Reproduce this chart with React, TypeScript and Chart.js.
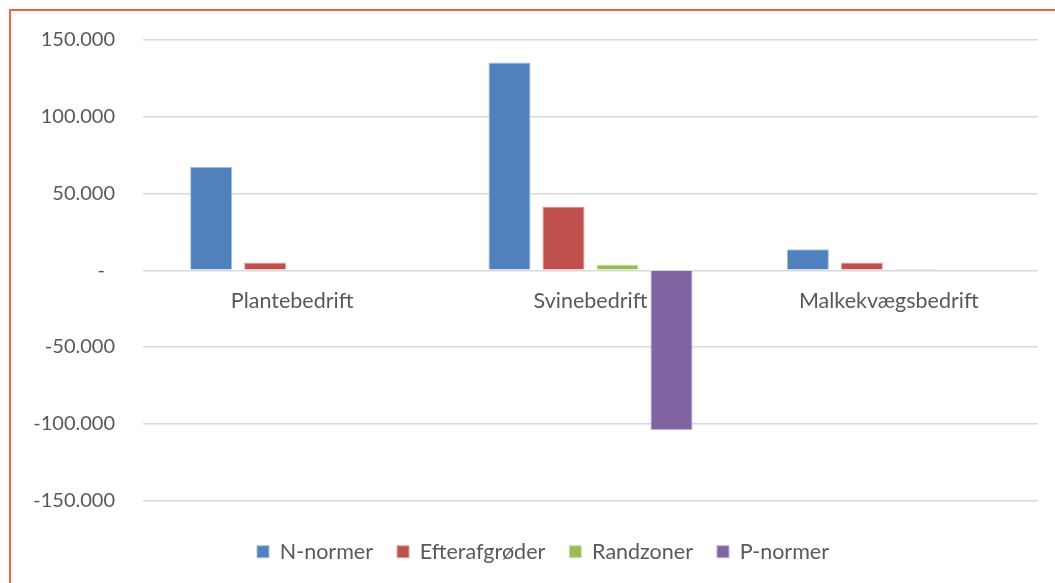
import React, { useEffect, useRef } from 'react';
import { Chart, registerables } from 'chart.js';

Chart.register(...registerables);

const categories = ['Plantebedrift', 'Svinebedrift', 'Malkekvægsbedrift'];
const seriesNames = ['N-normer', 'Efterafgrøder', 'Randzoner', 'P-normer'];
const nNormer = [67500, 135300, 13600];
const efterafgroeder = [5000, 41500, 5000];
const randzoner = [0, 3700, 800];
const pNormer = [0, -104000, 0];
const yMin = -150000;
const yMax = 150000;
const yStep = 50000;

const fillColors = ['#4f81bd', '#c0504d', '#9bbb59', '#8064a2'];
const edgeColors = ['#a7c0de', '#e0a8a6', '#cddcac', '#bfb1d0'];

const FONT = 'Lato, Carlito, Calibri, sans-serif';
const TEXT = '#595959';
const LEGEND_SHIFT = 24;

function fmt(v: number): string {
  if (v === 0) return '-\u2002';
  const s = Math.abs(v).toString().replace(/\B(?=(\d{3})+(?!\d))/g, '.');
  return (v < 0 ? '-' : '') + s;
}

const legendShift = {
  id: 'legendShift',
  afterLayout(chart: any) {
    const lg = chart.legend;
    if (lg) {
      lg.left += LEGEND_SHIFT;
      lg.right += LEGEND_SHIFT;
    }
  },
};

export default function App() {
  const ref = useRef<HTMLCanvasElement | null>(null);

  useEffect(() => {
    document.documentElement.style.overflow = 'hidden';
    document.body.style.overflow = 'hidden';
    const canvas = ref.current;
    if (!canvas) return;
    const seriesValues = [nNormer, efterafgroeder, randzoner, pNormer];
    const chart = new Chart(canvas, {
      type: 'bar',
      data: {
        labels: categories,
        datasets: seriesNames.map((name, i) => ({
          label: name,
          data: seriesValues[i],
          backgroundColor: fillColors[i],
          borderColor: edgeColors[i],
          borderWidth: 1,
          categoryPercentage: 0.724,
          barPercentage: 0.78,
        })),
      },
      plugins: [legendShift],
      options: {
        responsive: false,
        animation: false,
        events: [],
        layout: { padding: { left: 0, right: 17, top: 39, bottom: 10.5 } },
        scales: {
          x: {
            position: { y: 0 } as any,
            grid: { display: false, drawTicks: true, tickLength: 18 },
            border: { display: false },
            ticks: { color: TEXT, font: { family: FONT, size: 21.5 }, padding: 0 },
          },
          y: {
            min: yMin,
            max: yMax,
            grid: { color: '#d9d9d9', lineWidth: 1.5, drawTicks: false },
            border: { display: false },
            ticks: {
              stepSize: yStep,
              color: TEXT,
              font: { family: FONT, size: 20 },
              padding: 28,
              callback: (v: any) => fmt(Number(v)),
            },
            afterFit: (scale: any) => {
              scale.width = 143;
            },
          },
        },
        plugins: {
          tooltip: { enabled: false },
          title: { display: false },
          legend: {
            display: true,
            position: 'bottom',
            title: { display: true, text: '', font: { size: 10, lineHeight: 1.65 }, padding: 0 },
            labels: {
              boxWidth: 12,
              boxHeight: 12,
              padding: 24,
              color: TEXT,
              font: { family: FONT, size: 21.5 },
            },
          },
        },
      },
    });
    return () => chart.destroy();
  }, []);

  return (
    <>
      <canvas
        ref={ref}
        width={1055}
        height={583}
        style={{ position: 'fixed', left: 0, top: 0, width: 1055, height: 583, display: 'block' }}
      />
      <div
        style={{
          position: 'fixed',
          left: 9,
          top: 9,
          width: 1100,
          height: 600,
          border: '2px solid #f26140',
          pointerEvents: 'none',
        }}
      />
    </>
  );
}
